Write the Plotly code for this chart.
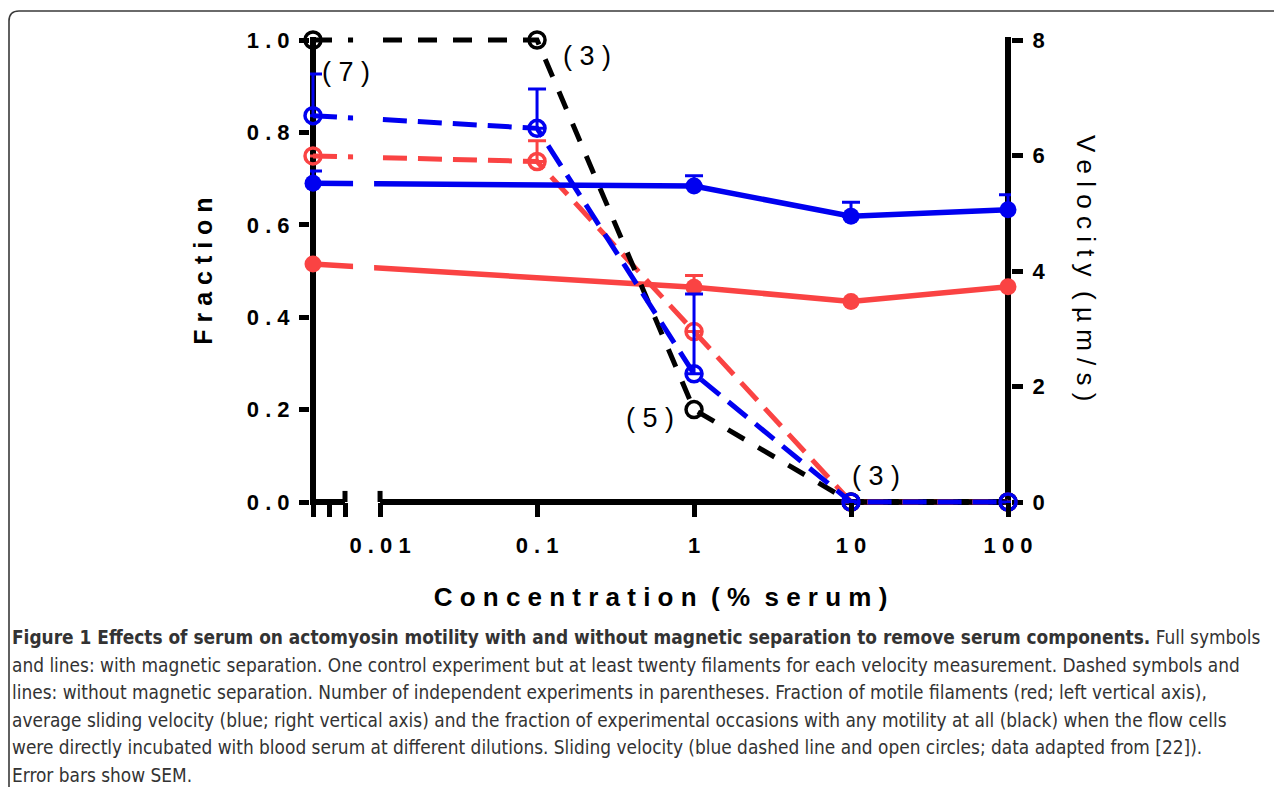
import math
import plotly.graph_objects as go

# ---------------- data ----------------
# % serum; the serum-free control is drawn at the left end of the broken log axis
concentration = [0.00374, 0.1, 1, 10, 100]

# with magnetic separation (solid lines, filled symbols)
fraction_motile_sep = [0.515, None, 0.465, 0.434, 0.466]
fraction_motile_sep_err = [0, 0, 0.025, 0, 0]
velocity_sep = [5.52, None, 5.47, 4.95, 5.06]
velocity_sep_err = [0.21, 0, 0.18, 0.24, 0.26]

# without magnetic separation (dashed lines, open symbols)
fraction_motile_nosep = [0.749, 0.737, 0.369, 0, 0]
fraction_motile_nosep_err = [0, 0.045, 0, 0, 0]
velocity_nosep = [6.69, 6.47, 2.22, 0, 0]
velocity_nosep_err = [0.72, 0.68, 1.38, 0, 0]
fraction_occasions_nosep = [1.0, 1.0, 0.2, 0, 0]

# number of independent experiments (annotations)
n_labels = ["(7)", "(3)", "(5)", "(3)"]

x_tick_vals = [0.01, 0.1, 1, 10, 100]
x_tick_labels = ["0.01", "0.1", "1", "10", "100"]
y_tick_vals = [0, 0.2, 0.4, 0.6, 0.8, 1.0]
y_tick_labels = ["0.0", "0.2", "0.4", "0.6", "0.8", "1.0"]
y2_tick_vals = [0, 2, 4, 6, 8]
y2_tick_labels = ["0", "2", "4", "6", "8"]

caption_lines = [
    "<b>Figure 1 Effects of serum on actomyosin motility with and without magnetic separation to remove serum components.</b> Full symbols",
    "and lines: with magnetic separation. One control experiment but at least twenty filaments for each velocity measurement. Dashed symbols and",
    "lines: without magnetic separation. Number of independent experiments in parentheses. Fraction of motile filaments (red; left vertical axis),",
    "average sliding velocity (blue; right vertical axis) and the fraction of experimental occasions with any motility at all (black) when the flow cells",
    "were directly incubated with blood serum at different dilutions. Sliding velocity (blue dashed line and open circles; data adapted from [22]).",
    "Error bars show SEM.",
]

# ---------------- geometry / style ----------------
W, H = 1282, 787
OFF = 8                                        # page body margin
PX_L, PX_R, PX_T, PX_B = 313, 1008, 40, 502    # target pixels of axis lines
LW = 6
PAD_X = 3
PAD_Y = 5
RED, BLUE, BLACK = "#FA4343", "#0000F0", "#000000"
BOLD = "Liberation Sans, Arial, sans-serif"
CAPTION_FONT = "DejaVu Sans Condensed, Liberation Sans, sans-serif"
NBSP = "\u00a0"


def spaced(s):
    return (NBSP * 2).join(NBSP.join(w) for w in s.split(" "))


lg0 = math.log10(concentration[0])
dec_px = (PX_R - PX_L) / (2 - lg0)
plot_l, plot_r = PX_L - PAD_X - OFF, PX_R + PAD_X - OFF
plot_t, plot_b = PX_T - PAD_Y - OFF, PX_B + PAD_Y - OFF
xr = [lg0 - PAD_X / dec_px, 2 + PAD_X / dec_px]
yscale = (PX_B - PX_T)
yr = [-PAD_Y / yscale, 1 + PAD_Y / yscale]
y2r = [-8 * PAD_Y / yscale, 8 + 8 * PAD_Y / yscale]


def xp(val):  # data value -> paper x
    return (math.log10(val) - xr[0]) / (xr[1] - xr[0])


def yp(val):  # fraction value -> paper y
    return (val - yr[0]) / (yr[1] - yr[0])


def pxx(px):  # target page pixel -> paper x
    return (px - OFF - plot_l) / (plot_r - plot_l)


def pxy(py):  # target page pixel -> paper y
    return (plot_b - (py - OFF)) / (plot_b - plot_t)


fig = go.Figure()

common_err = dict(type="data", symmetric=False, thickness=3, width=9)


def errs(e):
    return dict(common_err, array=e, arrayminus=[0] * len(e))


fig.add_trace(go.Scatter(
    x=concentration, y=fraction_motile_sep, mode="lines+markers", connectgaps=True,
    line=dict(color=RED, width=5.5), marker=dict(color=RED, size=17),
    error_y=dict(errs(fraction_motile_sep_err), color=RED), cliponaxis=False,
    name="Fraction motile (separated)"))
fig.add_trace(go.Scatter(
    x=concentration, y=fraction_motile_nosep, mode="lines+markers",
    line=dict(color=RED, width=5, dash="24px,11px"),
    marker=dict(color=RED, size=16, symbol="circle-open", line=dict(width=3.5, color=RED)),
    error_y=dict(errs(fraction_motile_nosep_err), color=RED), cliponaxis=False,
    name="Fraction motile (not separated)"))
fig.add_trace(go.Scatter(
    x=concentration, y=fraction_occasions_nosep, mode="lines+markers",
    line=dict(color=BLACK, width=5, dash="19px,16px"),
    marker=dict(color=BLACK, size=16, symbol="circle-open", line=dict(width=3.5, color=BLACK)),
    cliponaxis=False, name="Fraction of occasions with motility"))
fig.add_trace(go.Scatter(
    x=concentration, y=velocity_sep, yaxis="y2", mode="lines+markers", connectgaps=True,
    line=dict(color=BLUE, width=5.5), marker=dict(color=BLUE, size=17),
    error_y=dict(errs(velocity_sep_err), color=BLUE), cliponaxis=False,
    name="Velocity (separated)"))
fig.add_trace(go.Scatter(
    x=concentration, y=velocity_nosep, yaxis="y2", mode="lines+markers",
    line=dict(color=BLUE, width=5, dash="24px,11px"),
    marker=dict(color=BLUE, size=16, symbol="circle-open", line=dict(width=3.5, color=BLUE)),
    error_y=dict(errs(velocity_nosep_err), color=BLUE), cliponaxis=False,
    name="Velocity (not separated)"))

break_ticks = [concentration[0], 0.00473, 0.00598]

shapes = []
axis_line = dict(type="line", xref="paper", yref="paper", line=dict(color="black", width=LW), layer="below")
# vertical axis lines (left: fraction, right: velocity)
for xx in (xp(concentration[0]), xp(100)):
    shapes.append(dict(axis_line, x0=xx, x1=xx, y0=pxy(505), y1=pxy(37)))
# broken x axis
shapes.append(dict(axis_line, x0=xp(concentration[0]), x1=xp(break_ticks[2]), y0=yp(0), y1=yp(0)))
shapes.append(dict(axis_line, x0=xp(0.01), x1=xp(100), y0=yp(0), y1=yp(0)))
for v in (break_ticks[2], 0.01):
    shapes.append(dict(axis_line, x0=xp(v), x1=xp(v), y0=yp(0), y1=yp(0.024), line=dict(color="black", width=5)))
# gap in the data lines at the axis break
shapes.append(dict(type="rect", xref="paper", yref="paper", x0=xp(10 ** -2.172), x1=xp(10 ** -2.038),
                   y0=yp(-0.005), y1=1.0, fillcolor="white", line=dict(width=0), layer="above"))
# rounded frame around the figure
fr = 10
path = (f"M {pxx(9)},{pxy(800)} L {pxx(9)},{pxy(11 + fr)} "
        f"Q {pxx(9)},{pxy(11)} {pxx(9 + fr)},{pxy(11)} L {pxx(1300)},{pxy(11)}")
shapes.append(dict(type="path", xref="paper", yref="paper", path=path,
                   line=dict(color="#3a3a3a", width=1.6)))

annotations = []
n_pos = [(-2.217, 0.931), (-0.682, 0.965), (-0.280, 0.182), (1.159, 0.056)]
for txt, (ax_, ay_) in zip(n_labels, n_pos):
    annotations.append(dict(x=ax_, y=ay_, xref="x", yref="y", text=spaced(txt), showarrow=False,
                            font=dict(family=BOLD, size=27, color="black"),
                            xanchor="center", yanchor="middle"))
annotations.append(dict(x=pxx(1086), y=pxy(268), xref="paper", yref="paper",
                        text=spaced("Velocity (µm/s)"), textangle=90, showarrow=False,
                        font=dict(family=BOLD, size=26, color="black"),
                        xanchor="center", yanchor="middle"))
for i, line in enumerate(caption_lines):
    annotations.append(dict(x=pxx(10), y=pxy(637 + i * 27.6), xref="paper", yref="paper",
                            text=line, showarrow=False, xanchor="left", yanchor="middle", align="left",
                            font=dict(family=CAPTION_FONT, size=18.9, color="#333333")))

tickfont = dict(family=BOLD, size=22, color="black", weight="bold")

fig.update_layout(
    width=W, height=H, paper_bgcolor="white", plot_bgcolor="white", showlegend=False,
    margin=dict(l=plot_l, r=W - plot_r, t=plot_t, b=H - plot_b, pad=0),
    xaxis=dict(type="log", range=xr, anchor="free", position=yp(0), showline=False,
               showgrid=False, zeroline=False, ticks="outside", ticklen=14, tickwidth=5, tickcolor="black",
               tickvals=break_ticks + x_tick_vals,
               ticktext=[""] * len(break_ticks) + [spaced(t) for t in x_tick_labels],
               tickfont=tickfont, ticklabelstandoff=10,
               title=dict(text=spaced("Concentration (% serum)"), standoff=30,
                          font=dict(family=BOLD, size=26, color="black", weight="bold"))),
    yaxis=dict(range=yr, showline=False, showgrid=False, zeroline=False,
               ticks="outside", ticklen=10, tickwidth=5, tickcolor="black", layer="below traces",
               tickvals=y_tick_vals, ticktext=[spaced(t) for t in y_tick_labels], tickfont=tickfont,
               ticklabelstandoff=5,
               title=dict(text=spaced("Fraction"), standoff=27,
                          font=dict(family=BOLD, size=25, color="black", weight="bold"))),
    yaxis2=dict(range=y2r, overlaying="y", side="right", anchor="x", showline=False,
                showgrid=False, zeroline=False, ticks="outside", ticklen=11,
                tickwidth=5, tickcolor="black", layer="below traces", ticklabelstandoff=5,
                tickvals=y2_tick_vals, ticktext=y2_tick_labels, tickfont=tickfont),
    shapes=shapes, annotations=annotations,
)

fig.write_html("out.html")
